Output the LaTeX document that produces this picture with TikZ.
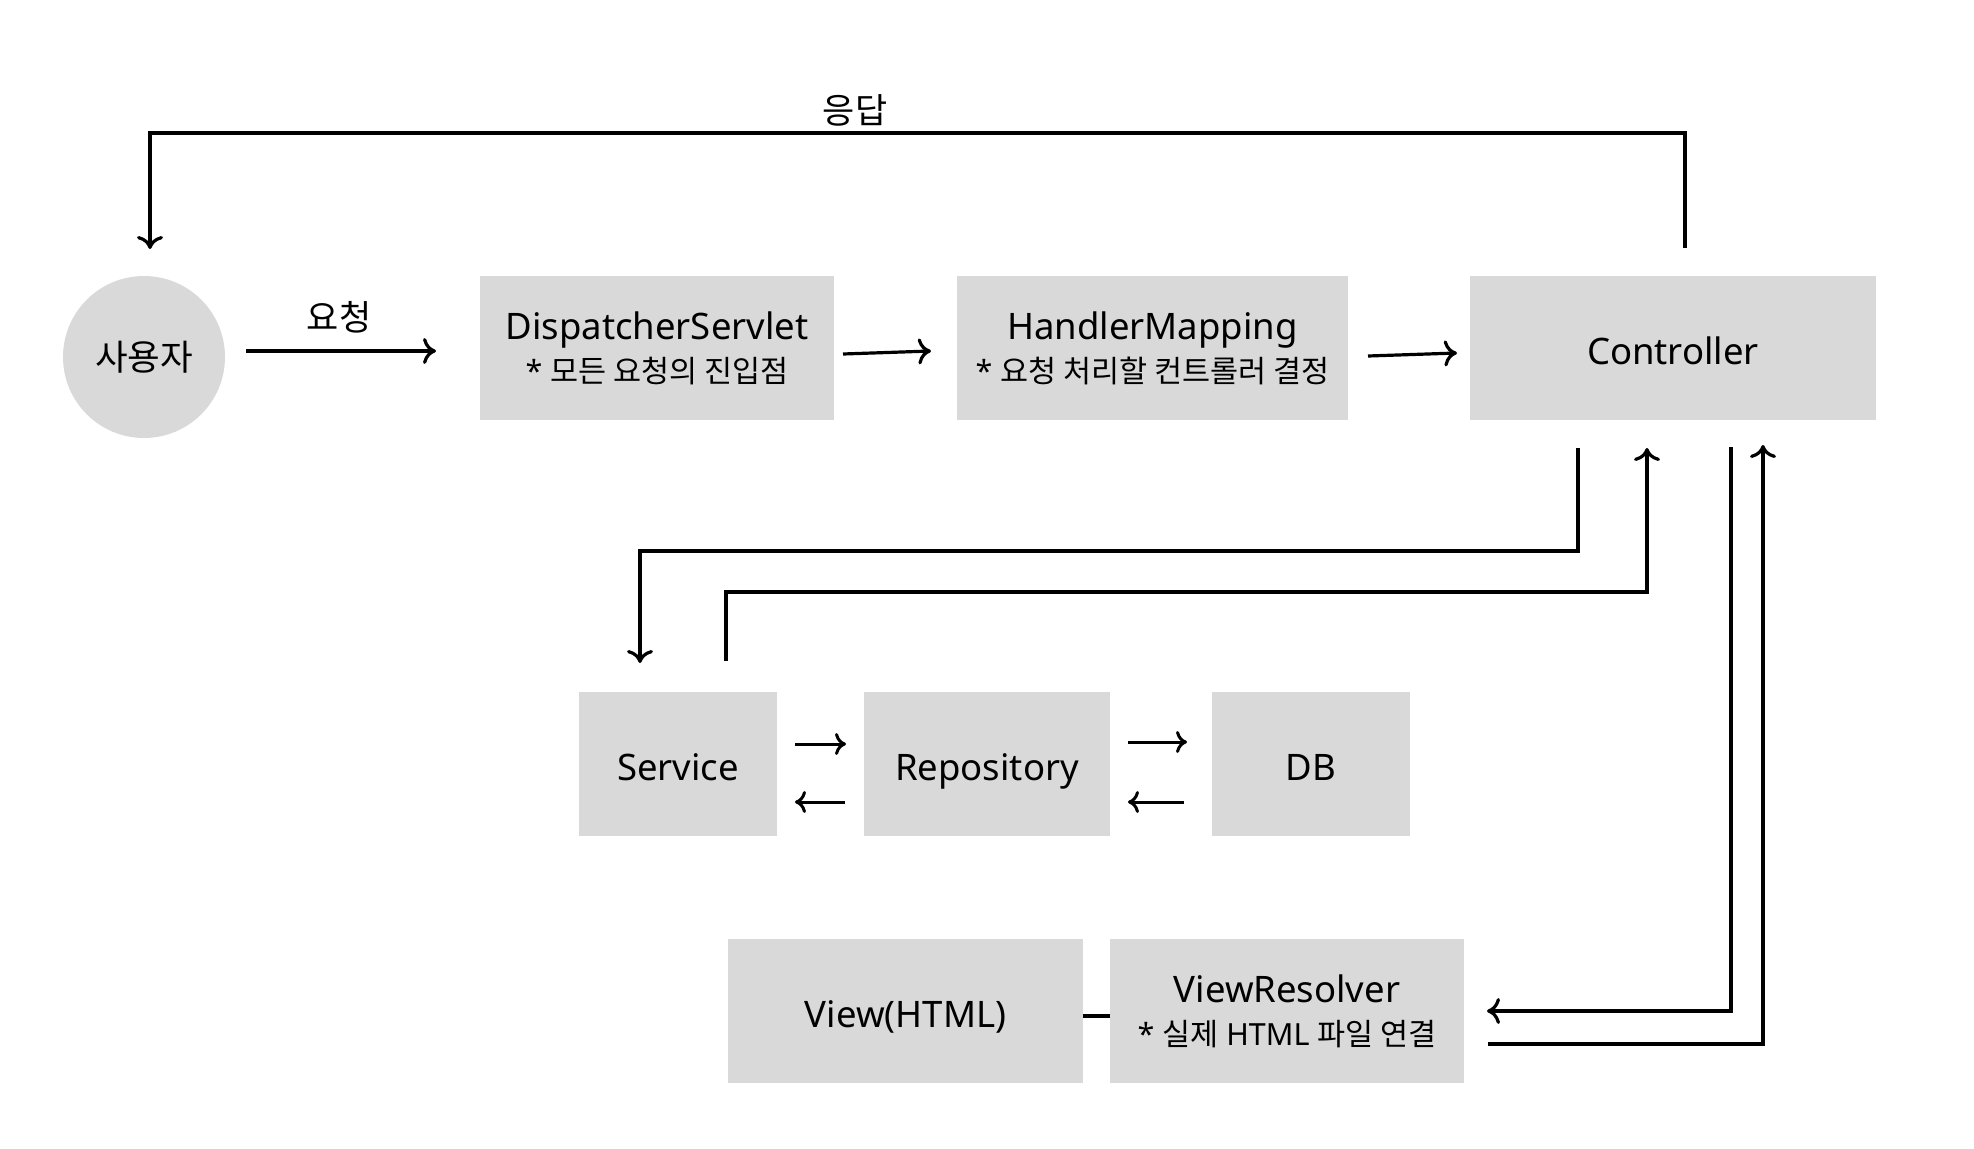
\documentclass[tikz,border=0pt]{standalone}
\usepackage{fontspec}
\setmainfont{Noto Sans}
\newfontfamily\kr{Noto Sans CJK KR}
\usetikzlibrary{arrows.meta}
\definecolor{boxgray}{RGB}{217,217,217}
\begin{document}
\begin{tikzpicture}[x=1pt,y=-1pt,
  box/.style={fill=boxgray, draw=none, inner sep=0pt, align=center,
    minimum width=354pt, minimum height=144pt, font=\fontsize{36.5}{43}\selectfont},
  onebox/.style={box, text height=32pt, text depth=0pt},
  conn/.style={line width=3.2pt, -{Computer Modern Rightarrow[length=13pt,width=26pt,line width=3.2pt]}},
  sconn/.style={line width=3pt, -{Computer Modern Rightarrow[length=11pt,width=22pt,line width=3pt]}},
  plain/.style={line width=3.2pt},
  lbl/.style={font=\kr\fontsize{35}{40}\selectfont}
]
\useasboundingbox (0,0) rectangle (1974,1149);
\newcommand{\subline}[1]{{\fontsize{30.5}{36}\selectfont #1}}

% nodes
\node[circle, fill=boxgray, minimum size=162pt, inner sep=0pt,
      font=\kr\fontsize{35.5}{40}\selectfont] (user) at (144,357) {사용자};
\node[box] (ds) at (657,348) {DispatcherServlet\\\subline{* {\kr 모든 요청의 진입점}}};
\node[box, minimum width=391pt] (hm) at (1152.5,348) {HandlerMapping\\\subline{* {\kr 요청 처리할 컨트롤러 결정}}};
\node[onebox, minimum width=406pt] (ctrl) at (1673,348) {Controller};
\node[onebox, minimum width=198pt] (svc) at (678,764) {Service};
\node[onebox, minimum width=246pt] (repo) at (987,764) {Repository};
\node[onebox, minimum width=198pt] (db) at (1311,764) {DB};
\node[onebox, minimum width=355pt] (view) at (905.5,1011) {View(HTML)};
\node[box] (vr) at (1287,1011) {ViewResolver\\\subline{* {\kr 실제} HTML {\kr 파일 연결}}};

% labels
\node[lbl] (req) at (339,317) {요청};
\node[lbl] (resp) at (855,110) {응답};

% request arrow and top-row arrows
\coordinate (a1s) at (246,351); \coordinate (a1e) at (436,351);
\draw[conn] (a1s) -- (a1e);
\coordinate (a2s) at (843,354); \coordinate (a2e) at (931,351);
\draw[conn] (a2s) -- (a2e);
\coordinate (a3s) at (1368,356); \coordinate (a3e) at (1457,353);
\draw[conn] (a3s) -- (a3e);

% response loop
\coordinate (r1) at (1685,248); \coordinate (rtop) at (150,133); \coordinate (r2) at (150,249);
\draw[conn] (r1) |- (rtop) -- (r2);

% controller <-> service
\coordinate (cs1) at (1578,448); \coordinate (cs2) at (640,551); \coordinate (cs3) at (640,663);
\draw[conn] (cs1) |- (cs2) -- (cs3);
\coordinate (sc1) at (726,661); \coordinate (sc2) at (1647,592); \coordinate (sc3) at (1647,448);
\draw[conn] (sc1) |- (sc2) -- (sc3);

% controller <-> view resolver
\coordinate (cv1) at (1731,447); \coordinate (cv2) at (1487,1011);
\draw[conn] (cv1) |- (cv2);
\coordinate (vc1) at (1488,1044); \coordinate (vc2) at (1763,445);
\draw[conn] (vc1) -| (vc2);

% service <-> repository <-> db
\coordinate (b1s) at (795,744); \coordinate (b1e) at (846,744);
\draw[sconn] (b1s) -- (b1e);
\coordinate (b2s) at (845,802); \coordinate (b2e) at (795,802);
\draw[sconn] (b2s) -- (b2e);
\coordinate (b3s) at (1128,742); \coordinate (b3e) at (1187,742);
\draw[sconn] (b3s) -- (b3e);
\coordinate (b4s) at (1184,802); \coordinate (b4e) at (1128,802);
\draw[sconn] (b4s) -- (b4e);

% view -- view resolver
\draw[plain] ([yshift=-5pt]view.east) -- ([yshift=-5pt]vr.west);
\end{tikzpicture}
\end{document}
